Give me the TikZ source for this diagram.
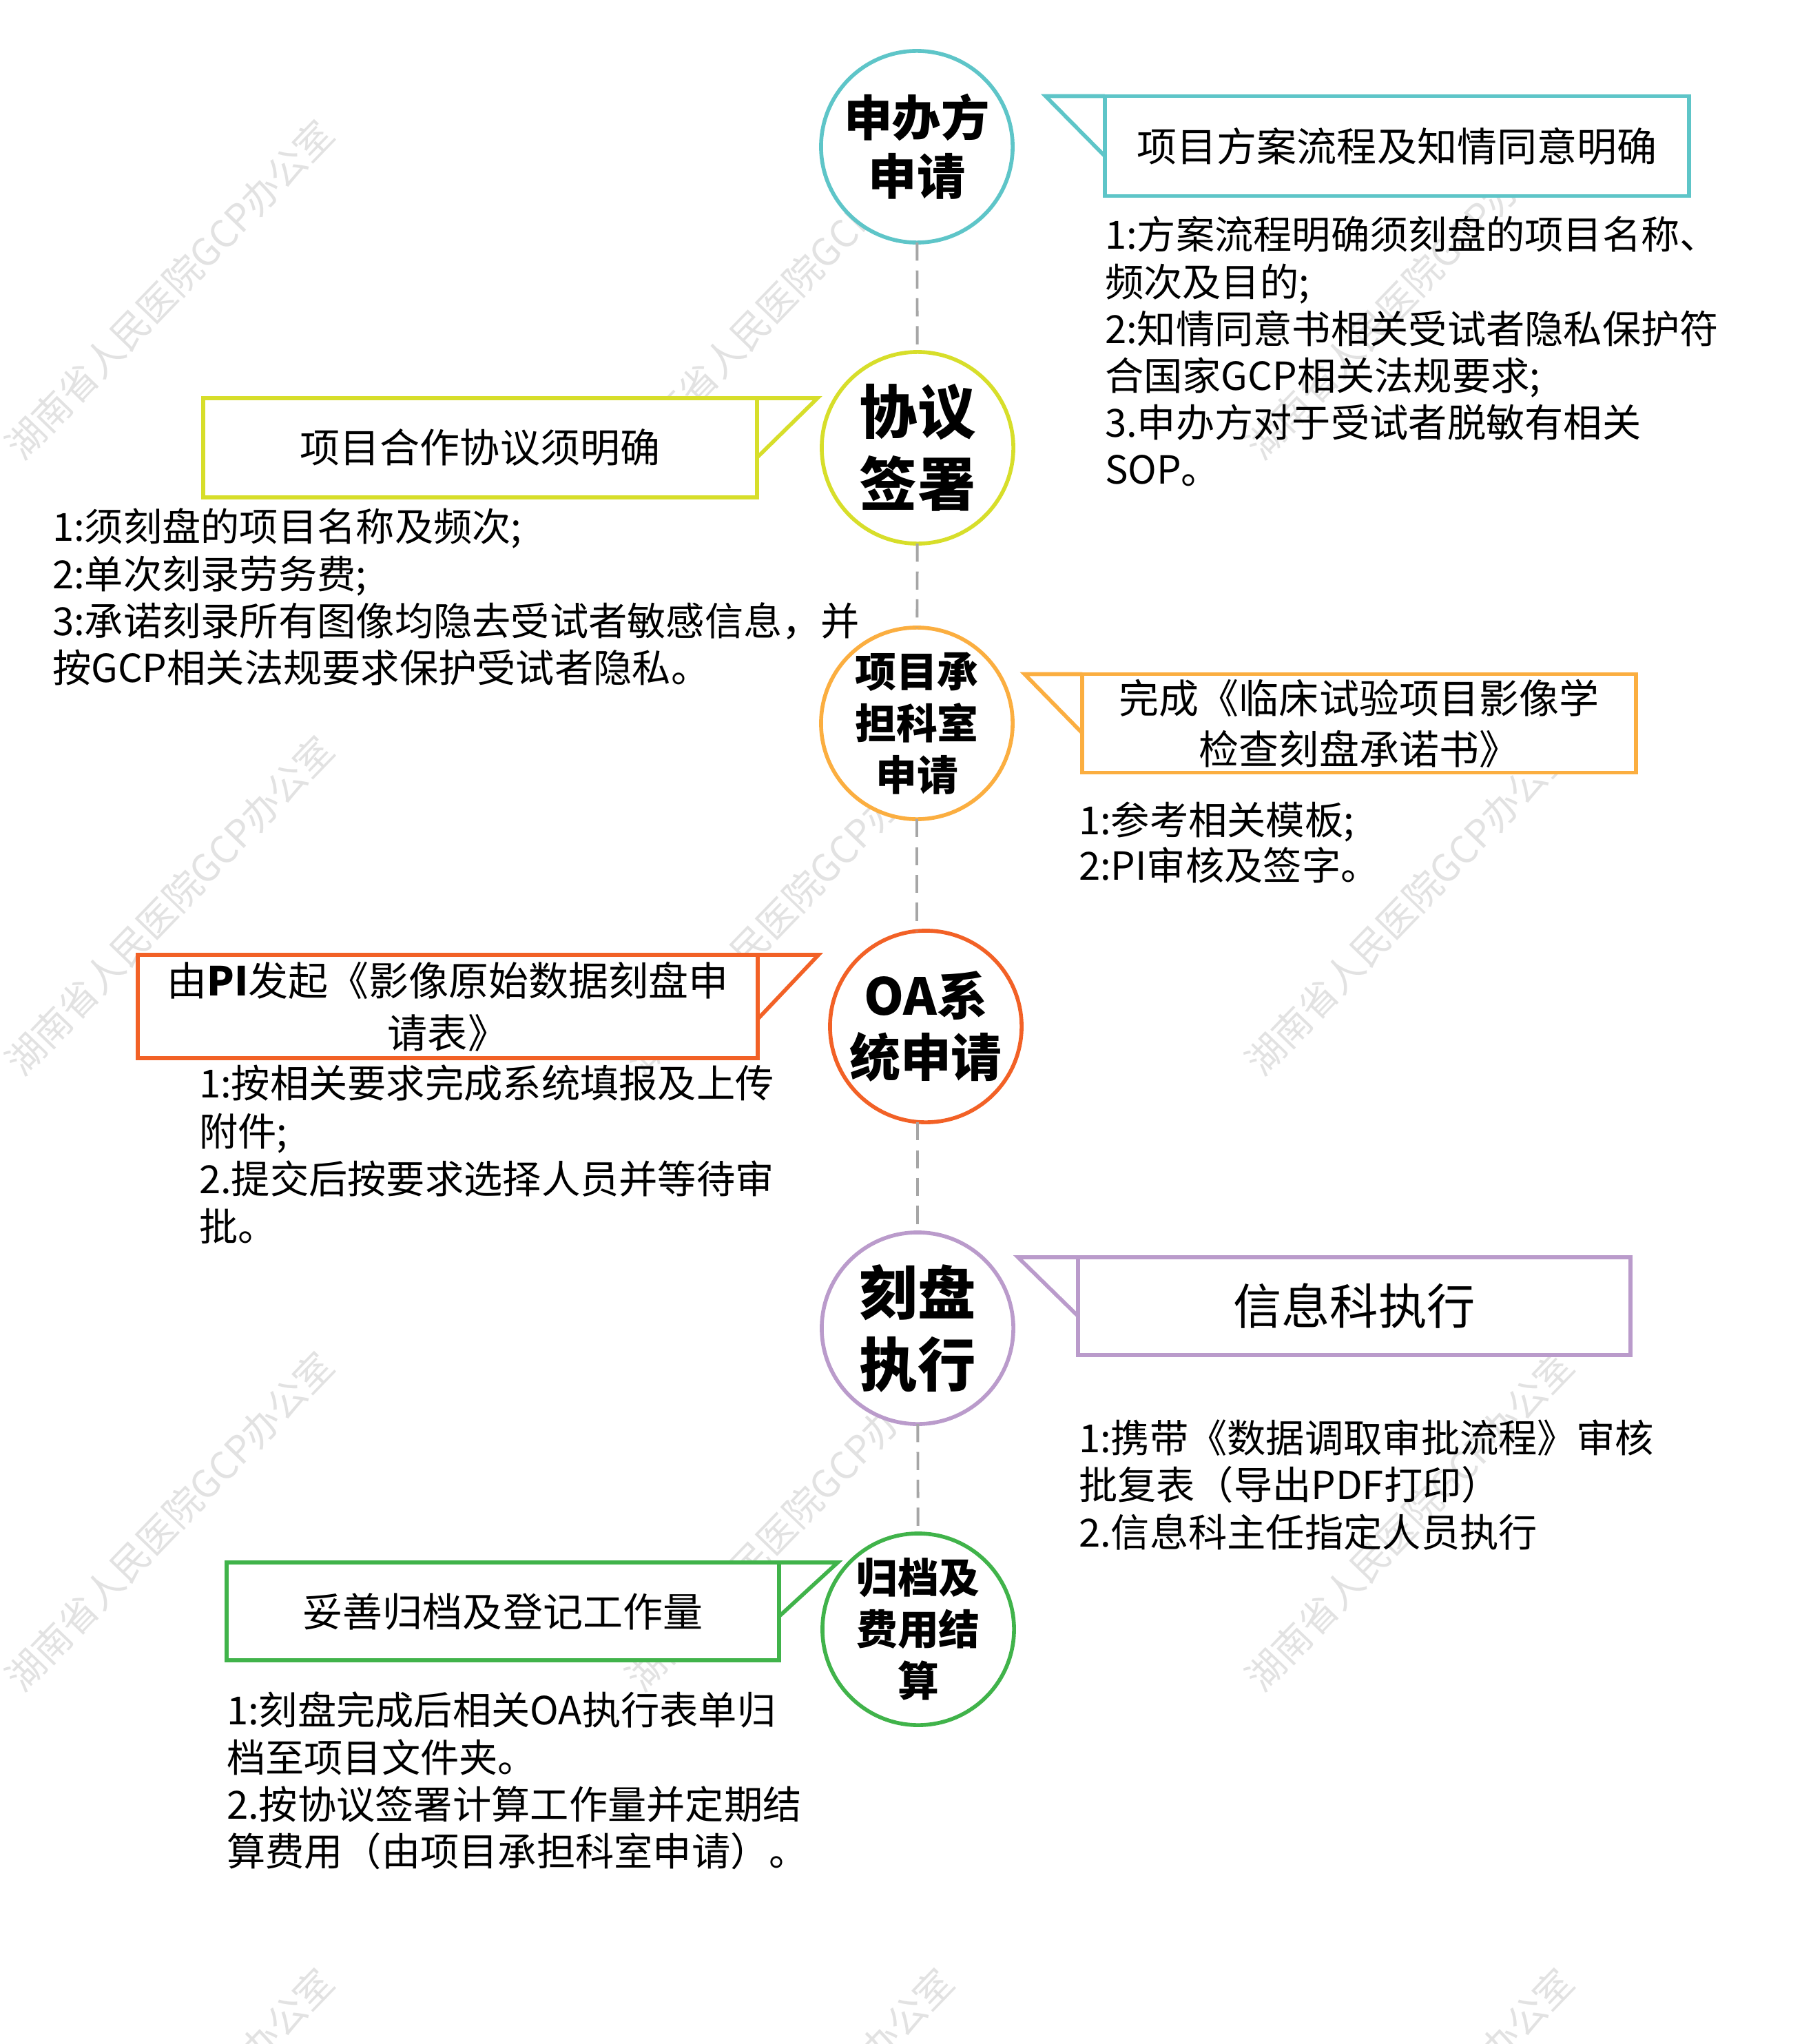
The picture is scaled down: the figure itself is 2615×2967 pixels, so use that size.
\documentclass[tikz,border=0pt]{standalone}
\usepackage{fontspec}
\setmainfont{Noto Sans CJK SC}
\usetikzlibrary{calc}

\definecolor{Teal}{HTML}{5EC5C8}
\definecolor{Lime}{HTML}{D7DE2A}
\definecolor{Amber}{HTML}{FBAE40}
\definecolor{Flame}{HTML}{F26126}
\definecolor{Lilac}{HTML}{BA9BCB}
\definecolor{Leaf}{HTML}{40B34A}
\definecolor{Dash}{HTML}{A6A6A6}
\definecolor{Faint}{HTML}{E2E2E2}

\begin{document}
\begin{tikzpicture}[x=0.01cm, y=-0.01cm, line width=1.6pt,
      every node/.append style={inner sep=0pt, outer sep=0pt},
      stage/.style={circle, draw=#1, fill=white, minimum size=2.78cm, align=center},
      note/.style={rectangle, draw=#1, fill=white, align=center, font=\fontsize{16.5}{21}\selectfont},
      pointer/.style={draw=#1, line join=miter},
      detail/.style={anchor=north west, align=left, font=\fontsize{16}{19.4}\selectfont},
      link/.style={draw=Dash, line width=1.1pt, dash pattern=on 7.5pt off 4pt}]
    \tikzstyle{stamp} = [rotate=46, text=Faint, font=\fontsize{15.6}{19}\selectfont]
    \useasboundingbox (0,0) rectangle (2615,2967);

    \foreach \wx in {246,1146,2046}
      \foreach \wy in {420,1314,2208,3103}
        \node[stamp] (wm\wx-\wy) at (\wx,\wy) {湖南省人民医院GCP办公室};

    \node[stage=Teal, font=\fontsize{20}{24.2}\selectfont\bfseries] (sponsor) at (1331,213) {申办方\\申请};
    \node[stage=Lime, font=\fontsize{24}{30}\selectfont\bfseries] (contract) at (1332,650) {协议\\签署};
    \node[stage=Amber, font=\fontsize{17}{21.3}\selectfont\bfseries] (dept) at (1331,1050) {项目承\\担科室\\申请};
    \node[stage=Flame, font=\fontsize{21}{25.3}\selectfont\bfseries] (oa) at (1344,1490) {OA系\\统申请};
    \node[stage=Lilac, font=\fontsize{24}{29.6}\selectfont\bfseries] (burn) at (1332,1928) {刻盘\\执行};
    \node[stage=Leaf, font=\fontsize{17}{21.3}\selectfont\bfseries] (archive) at (1333,2365) {归档及\\费用结\\算};

    \draw[link] (sponsor) -- (contract);
    \draw[link] (contract) -- (dept);
    \draw[link] (dept.south) -- (dept.south |- oa.north);
    \draw[link] (burn.north |- oa.south) -- (burn.north);
    \draw[link] (burn) -- (archive);

    \node[note=Teal, minimum width=8.48cm, minimum height=1.45cm] (goalA) at (2028,212) {项目方案流程及知情同意明确};
    \draw[pointer=Teal] (goalA.north west) -- ++(-86,0) -- ($(goalA.north west)!0.6!(goalA.south west)$);
    \node[note=Lime, minimum width=8.03cm, minimum height=1.44cm] (goalB) at (697,650) {项目合作协议须明确};
    \draw[pointer=Lime] (goalB.north east) -- ++(88,0) -- ($(goalB.north east)!0.6!(goalB.south east)$);
    \node[note=Amber, minimum width=8.03cm, minimum height=1.43cm] (goalC) at (1973,1050) {完成《临床试验项目影像学\\检查刻盘承诺书》};
    \draw[pointer=Amber] (goalC.north west) -- ++(-84,0) -- ($(goalC.north west)!0.6!(goalC.south west)$);
    \node[note=Flame, minimum width=9cm, minimum height=1.5cm, font=\fontsize{16.5}{21.6}\selectfont] (goalD) at (650,1461) {由\textbf{PI}发起《影像原始数据刻盘申\\请表》};
    \draw[pointer=Flame] (goalD.north east) -- ++(88,0) -- ($(goalD.north east)!0.62!(goalD.south east)$);
    \node[note=Lilac, minimum width=8.02cm, minimum height=1.42cm, font=\fontsize{20}{24}\selectfont] (goalE) at (1966,1896) {信息科执行};
    \draw[pointer=Lilac] (goalE.north west) -- ++(-87,0) -- ($(goalE.north west)!0.6!(goalE.south west)$);
    \node[note=Leaf, minimum width=8.02cm, minimum height=1.42cm] (goalF) at (730,2339) {妥善归档及登记工作量};
    \draw[pointer=Leaf] (goalF.north east) -- ++(85,0) -- ($(goalF.north east)!0.55!(goalF.south east)$);

    \node[detail] (textA) at (1604,314) {1:方案流程明确须刻盘的项目名称、\\频次及目的;\\2:知情同意书相关受试者隐私保护符\\合国家GCP相关法规要求;\\3.申办方对于受试者脱敏有相关\\SOP。};
    \node[detail] (textB) at (76,738) {1:须刻盘的项目名称及频次;\\2:单次刻录劳务费;\\3:承诺刻录所有图像均隐去受试者敏感信息，并\\按GCP相关法规要求保护受试者隐私。};
    \node[detail, font=\fontsize{16}{18.8}\selectfont] (textC) at (1566,1164) {1:参考相关模板;\\2:PI审核及签字。};
    \node[detail, font=\fontsize{16}{19.7}\selectfont] (textD) at (289,1546) {1:按相关要求完成系统填报及上传\\附件;\\2.提交后按要求选择人员并等待审\\批。};
    \node[detail] (textE) at (1566,2061) {1:携带《数据调取审批流程》审核\\批复表（导出PDF打印）\\2.信息科主任指定人员执行};
    \node[detail] (textF) at (329,2456) {1:刻盘完成后相关OA执行表单归\\档至项目文件夹。\\2.按协议签署计算工作量并定期结\\算费用（由项目承担科室申请）。};
\end{tikzpicture}
\end{document}
